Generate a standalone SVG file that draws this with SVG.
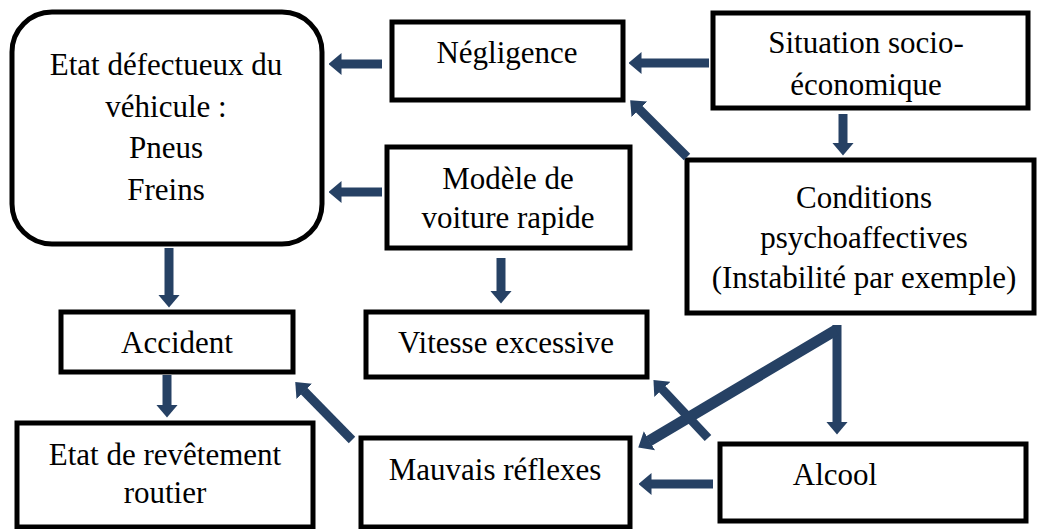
<svg xmlns="http://www.w3.org/2000/svg" width="1043" height="529" viewBox="0 0 1043 529">
<style>
.box{fill:#fff;stroke:#000;stroke-width:5}
.t{font-family:"Liberation Serif","Times New Roman",serif;font-size:31px;fill:#000;text-anchor:middle}
.c{stroke:#264164;stroke-width:9;fill:none;marker-end:url(#ah)}
</style>
<defs>
<marker id="ah" markerUnits="userSpaceOnUse" viewBox="0 -11 13 22" markerWidth="13" markerHeight="22" refX="0.5" refY="0" orient="auto">
<path d="M0,-11 L13,0 L0,11 z" fill="#264164"/>
</marker>
</defs>
<rect width="1043" height="529" fill="#fff"/>
<g id="n-etat">
<rect class="box" x="12" y="12" width="310" height="232" rx="40"/>
<text class="t" x="166" y="75">Etat défectueux du</text>
<text class="t" x="166" y="117">véhicule :</text>
<text class="t" x="166" y="158">Pneus</text>
<text class="t" x="166" y="200">Freins</text>
</g>
<g id="n-negligence">
<rect class="box" x="392" y="22" width="231" height="78"/>
<text class="t" x="507" y="63">Négligence</text>
</g>
<g id="n-situation">
<rect class="box" x="713" y="13" width="315" height="95"/>
<text class="t" x="866" y="53">Situation socio-</text>
<text class="t" x="866" y="95">économique</text>
</g>
<g id="n-conditions">
<rect class="box" x="687" y="160" width="347" height="153"/>
<text class="t" x="864" y="208">Conditions</text>
<text class="t" x="864" y="248">psychoaffectives</text>
<text class="t" x="864" y="288">(Instabilité par exemple)</text>
</g>
<g id="n-modele">
<rect class="box" x="387" y="147" width="243" height="101"/>
<text class="t" x="508" y="189">Modèle de</text>
<text class="t" x="508" y="228">voiture rapide</text>
</g>
<g id="n-vitesse">
<rect class="box" x="366" y="312" width="281" height="65"/>
<text class="t" x="506" y="353">Vitesse excessive</text>
</g>
<g id="n-accident">
<rect class="box" x="61" y="312" width="232" height="60"/>
<text class="t" x="177" y="353">Accident</text>
</g>
<g id="n-revetement">
<rect class="box" x="17" y="423" width="296" height="104"/>
<text class="t" x="165" y="465">Etat de revêtement</text>
<text class="t" x="165" y="503">routier</text>
</g>
<g id="n-mauvais">
<rect class="box" x="361" y="438" width="269" height="89"/>
<text class="t" x="495" y="480">Mauvais réflexes</text>
</g>
<g id="n-alcool">
<rect class="box" x="720" y="444" width="306" height="77"/>
<text class="t" x="835" y="485">Alcool</text>
</g>
<g id="connectors">
<line class="c" x1="382" y1="64" x2="341" y2="64"/>
<line class="c" x1="382" y1="192" x2="341" y2="192"/>
<line class="c" x1="709" y1="63" x2="641" y2="63"/>
<line class="c" x1="687" y1="157" x2="639" y2="109"/>
<line class="c" x1="843" y1="114" x2="843" y2="143"/>
<line class="c" x1="169" y1="248" x2="169" y2="295"/>
<line class="c" x1="501" y1="258" x2="501" y2="291"/>
<line class="c" x1="167" y1="375" x2="167" y2="405"/>
<line class="c" x1="352" y1="440" x2="304" y2="391"/>
<line class="c" x1="837" y1="325" x2="837" y2="422"/>
<line class="c" x1="836" y1="330" x2="649" y2="441" style="stroke-width:11"/>
<line class="c" x1="708" y1="438" x2="662" y2="389"/>
<line class="c" x1="713" y1="484" x2="651" y2="484"/>
</g>
</svg>
